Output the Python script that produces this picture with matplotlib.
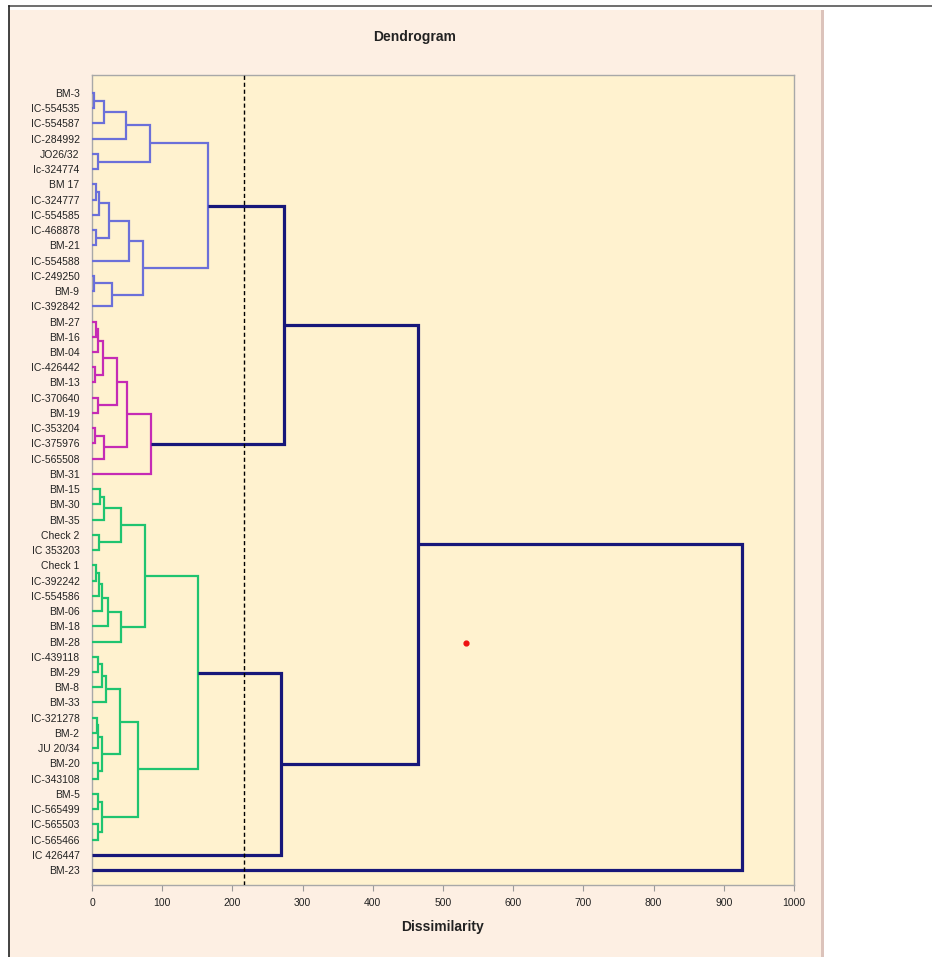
import matplotlib.pyplot as plt
from matplotlib.patches import Rectangle
from matplotlib.lines import Line2D

plt.rcParams['font.family'] = ['Liberation Sans Narrow', 'Liberation Sans', 'DejaVu Sans']

# leaves, top to bottom
labels = ['BM-3', 'IC-554535', 'IC-554587', 'IC-284992', 'JO26/32', 'Ic-324774',
          'BM 17', 'IC-324777', 'IC-554585', 'IC-468878', 'BM-21', 'IC-554588',
          'IC-249250', 'BM-9', 'IC-392842',
          'BM-27', 'BM-16', 'BM-04', 'IC-426442', 'BM-13', 'IC-370640', 'BM-19',
          'IC-353204', 'IC-375976', 'IC-565508', 'BM-31',
          'BM-15', 'BM-30', 'BM-35', 'Check 2', 'IC 353203', 'Check 1', 'IC-392242',
          'IC-554586', 'BM-06', 'BM-18', 'BM-28', 'IC-439118', 'BM-29', 'BM-8',
          'BM-33', 'IC-321278', 'BM-2', 'JU 20/34', 'BM-20', 'IC-343108', 'BM-5',
          'IC-565499', 'IC-565503', 'IC-565466',
          'IC 426447', 'BM-23']
groups = ['blue'] * 15 + ['magenta'] * 11 + ['green'] * 24 + [None] * 2

# merges: (child a, child b, dissimilarity); cluster k gets index len(labels) + k
merges = [
    (0, 1, 3), (52, 2, 17), (53, 3, 48), (4, 5, 8), (54, 55, 82),
    (6, 7, 6), (57, 8, 10.5), (9, 10, 6), (58, 59, 24.5), (60, 11, 52),
    (12, 13, 3), (62, 14, 28), (61, 63, 72.5), (56, 64, 165),
    (15, 16, 5), (66, 17, 9), (18, 19, 4), (67, 68, 15), (20, 21, 9),
    (69, 70, 36), (22, 23, 4), (72, 24, 17.5), (71, 73, 50), (74, 25, 83.5),
    (26, 27, 11), (76, 28, 17), (29, 30, 10.5), (77, 78, 41), (31, 32, 5.5),
    (80, 33, 10), (81, 34, 14), (82, 35, 23), (83, 36, 41), (79, 84, 75.5),
    (37, 38, 8), (86, 39, 14), (87, 40, 19.5), (41, 42, 6.5), (89, 43, 8),
    (44, 45, 8), (90, 91, 14), (88, 92, 39.5), (46, 47, 8), (48, 49, 8),
    (94, 95, 14), (93, 96, 65), (85, 97, 151),
    (98, 50, 269), (65, 75, 273), (100, 99, 465), (101, 51, 926),
]
cut_level = 217
dot_x = [533]
dot_y = [36.1]

colors = {'blue': '#6b70d9', 'magenta': '#c52bb5', 'green': '#1fc470', None: '#17177a'}

fig = plt.figure(figsize=(9.32, 9.57), dpi=100)
W, H = 932, 957

# chart area panel
fig.patches.append(Rectangle((9 / W, 0), 812 / W, 1 - 10 / H, transform=fig.transFigure,
                             facecolor='#fdefe3', edgecolor='none', zorder=-2))
fig.patches.append(Rectangle((821 / W, 0), 3 / W, 1 - 10 / H, transform=fig.transFigure,
                             facecolor='#dcc3bb', edgecolor='none', zorder=-2))
fig.lines.append(Line2D([9 / W, 1], [1 - 6 / H, 1 - 6 / H], transform=fig.transFigure,
                        color='#555555', lw=1.2, zorder=-1))
fig.lines.append(Line2D([9 / W, 9 / W], [0, 1 - 6 / H], transform=fig.transFigure,
                        color='#222222', lw=1.2, zorder=-1))

ax = fig.add_axes([92 / W, 1 - 885 / H, 702 / W, 810 / H])
ax.set_facecolor('#fff2cf')

pos = {i: (0, i) for i in range(len(labels))}
grp = {i: g for i, g in enumerate(groups)}
for k, (a, b, h) in enumerate(merges):
    ha, ya = pos[a]
    hb, yb = pos[b]
    g = grp[a] if grp[a] == grp[b] else None
    lw = 1.6 if g else 2.3
    ax.plot([ha, h, h, hb], [ya, ya, yb, yb], color=colors[g], lw=lw,
            solid_joinstyle='miter', solid_capstyle='butt', zorder=3 if g else 4)
    node = len(labels) + k
    pos[node] = (h, (ya + yb) / 2)
    grp[node] = g

ax.axvline(cut_level, color='black', lw=1, ls=(0, (3, 2)), zorder=5)
ax.scatter(dot_x, dot_y, s=12, color='#ee1111', zorder=6)

ax.set_xlim(0, 1000)
ax.set_ylim(51.98, -1.18)
ax.set_xticks(range(0, 1001, 100))
ax.set_yticks(range(len(labels)))
ax.set_yticklabels(labels)
ax.tick_params(axis='y', length=0, pad=9, labelsize=7.5, labelcolor='#222222')
ax.tick_params(axis='x', direction='out', length=4, color='#999999', pad=5,
               labelsize=7.5, labelcolor='#222222')
for s in ax.spines.values():
    s.set_color('#a8a8a8')
    s.set_linewidth(1)

ax.set_xlabel('Dissimilarity', fontsize=10, fontweight='bold', labelpad=9, color='#222222')
fig.text(415 / W, 1 - 37 / H, 'Dendrogram', ha='center', va='center',
         fontsize=10, fontweight='bold', color='#222222')

fig.savefig('out.png', dpi=100, facecolor='white')
